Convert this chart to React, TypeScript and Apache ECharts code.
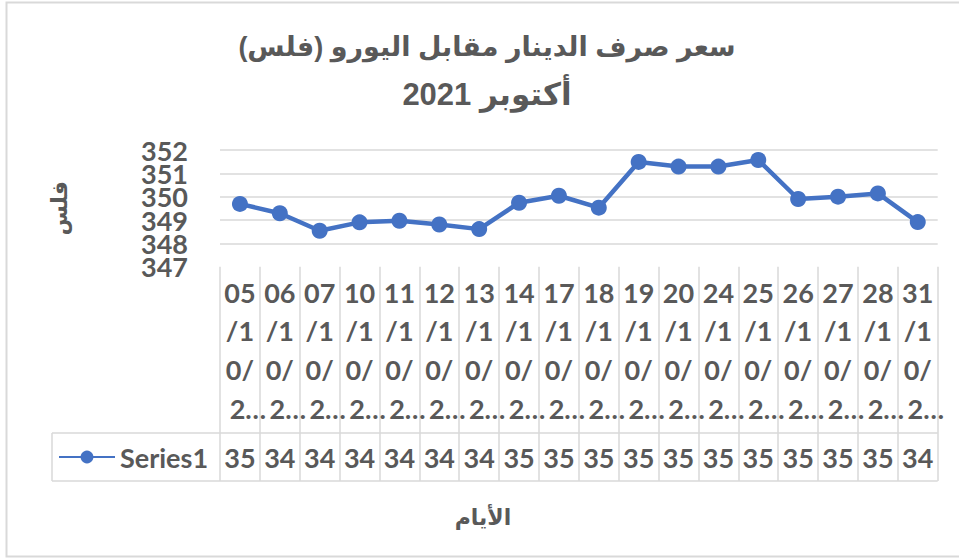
import React, { useEffect, useRef } from "react";
import * as echarts from "echarts";

const titleLine1 = "سعر صرف الدينار مقابل اليورو (فلس)\u200F";
const titleLine2 = "أكتوبر 2021";
const yAxisTitle = "فلس";
const xAxisTitle = "الأيام";
const seriesName = "Series1";

const dates = [
  "05/10/2021", "06/10/2021", "07/10/2021", "10/10/2021", "11/10/2021", "12/10/2021",
  "13/10/2021", "14/10/2021", "17/10/2021", "18/10/2021", "19/10/2021", "20/10/2021",
  "24/10/2021", "25/10/2021", "26/10/2021", "27/10/2021", "28/10/2021", "31/10/2021",
];
const rates = [
  349.69, 349.29, 348.54, 348.9, 348.97, 348.81, 348.61, 349.74, 350.04,
  349.53, 351.49, 351.29, 351.29, 351.57, 349.9, 350.0, 350.14, 348.91,
];
// Excel data table shows the rounded value truncated to two characters
const tableLabels = rates.map((v) => String(Math.round(v)).slice(0, 2));

const Y_MIN = 347;
const Y_MAX = 352;
const Y_STEP = 1;

const GREY = "#595959";
const GRID_GREY = "#d9d9d9";
const BLUE = "#4472C4";
const NUM_FONT = "Lato, 'Open Sans', sans-serif";
const AR_FONT = "'Liberation Sans', 'DejaVu Sans', sans-serif";

export default function App() {
  const ref = useRef<HTMLDivElement>(null);

  useEffect(() => {
    if (!ref.current) return;
    const chart = echarts.init(ref.current, undefined, { renderer: "svg" });

    const gridLeft = 220;
    const gridRight = 21.3;
    const gridTop = 150;
    const gridBottom = 291.3;
    const axisY = 558 - gridBottom;
    const tableTop = 433;
    const tableBottom = 481;
    const tableLeft = 52;
    const plotRight = 959 - gridRight;

    const yLabelStyle = {
      margin: 32,
      showMinLabel: true,
      showMaxLabel: true,
      hideOverlap: false,
      color: GREY,
      fontSize: 27,
      fontWeight: "bold",
      fontFamily: NUM_FONT,
    };

    const option: any = {
      animation: false,
      backgroundColor: "#ffffff",
      grid: { left: gridLeft, right: gridRight, top: gridTop, bottom: gridBottom, containLabel: false },
      legend: {
        data: [seriesName],
        left: 58,
        top: 442,
        padding: 0,
        itemWidth: 56,
        itemHeight: 16,
        textStyle: { color: GREY, fontSize: 27, fontWeight: "bold", fontFamily: NUM_FONT, lineHeight: 30 },
      },
      xAxis: [
        {
          type: "category",
          data: dates,
          boundaryGap: true,
          position: "bottom",
          axisLine: { show: false },
          axisTick: {
            show: true,
            interval: 0,
            length: tableBottom - axisY,
            lineStyle: { color: GRID_GREY, width: 1.5 },
          },
          axisLabel: {
            interval: 0,
            margin: 6,
            hideOverlap: false,
            formatter: (v: string) => {
              const parts: string[] = [];
              for (let i = 0; i < v.length; i += 2) parts.push(v.slice(i, i + 2));
              return `{a|${parts[0]}}\n{a|${parts[1]}}\n{a|${parts[2]}}\n{b|${parts[3][0]}…}`;
            },
            rich: {
              a: { color: GREY, fontSize: 27, fontWeight: "bold", fontFamily: NUM_FONT, lineHeight: 38.7 },
              b: {
                color: GREY, fontSize: 27, fontWeight: "bold", fontFamily: NUM_FONT, lineHeight: 38.7,
                padding: [0, 0, 0, 16],
              },
            },
          },
          splitLine: { show: false },
        },
        {
          type: "category",
          data: tableLabels,
          boundaryGap: true,
          position: "bottom",
          axisLine: { show: false },
          axisTick: { show: false },
          axisLabel: {
            interval: 0,
            margin: 442 - axisY,
            hideOverlap: false,
            color: GREY,
            fontSize: 27,
            fontWeight: "bold",
            fontFamily: NUM_FONT,
            lineHeight: 30,
          },
          splitLine: { show: false },
        },
      ],
      yAxis: [
        {
          type: "value",
          min: Y_MIN,
          max: Y_MAX,
          interval: Y_STEP,
          position: "left",
          name: yAxisTitle,
          nameLocation: "middle",
          nameRotate: 90,
          nameGap: 150,
          nameMoveOverlap: false,
          nameTextStyle: { color: GREY, fontSize: 22, fontWeight: "bold", fontFamily: AR_FONT },
          axisLine: { show: false },
          axisTick: { show: false },
          axisLabel: {
            ...yLabelStyle,
            formatter: (v: number) => ((v - Y_MIN) % 2 === 0 ? String(v) : ""),
          },
          splitLine: {
            show: true,
            lineStyle: {
              color: ["rgba(0,0,0,0)", GRID_GREY, GRID_GREY, GRID_GREY, GRID_GREY, GRID_GREY],
              width: 1.5,
            },
          },
        },
        {
          type: "value",
          min: Y_MIN,
          max: Y_MAX,
          interval: Y_STEP,
          position: "left",
          offset: 0,
          axisLine: { show: false },
          axisTick: { show: false },
          axisLabel: {
            ...yLabelStyle,
            formatter: (v: number) => ((v - Y_MIN) % 2 === 1 ? String(v) : ""),
          },
          splitLine: { show: false },
        },
      ],
      series: [
        {
          name: seriesName,
          type: "line",
          xAxisIndex: 0,
          yAxisIndex: 0,
          data: rates,
          symbol: "circle",
          symbolSize: 16,
          itemStyle: { color: BLUE },
          lineStyle: { color: BLUE, width: 4.5 },
          z: 5,
        },
      ],
      graphic: [
        {
          type: "rect",
          silent: true,
          shape: { x: 6.5, y: 2.5, width: 960, height: 554 },
          style: { fill: "none", stroke: GRID_GREY, lineWidth: 2 },
        },
        {
          type: "line",
          silent: true,
          shape: { x1: tableLeft, y1: tableTop, x2: plotRight, y2: tableTop },
          style: { stroke: GRID_GREY, lineWidth: 1.5 },
        },
        {
          type: "line",
          silent: true,
          shape: { x1: tableLeft, y1: tableBottom, x2: plotRight, y2: tableBottom },
          style: { stroke: GRID_GREY, lineWidth: 1.5 },
        },
        {
          type: "line",
          silent: true,
          shape: { x1: tableLeft, y1: tableTop, x2: tableLeft, y2: tableBottom },
          style: { stroke: GRID_GREY, lineWidth: 1.5 },
        },
        {
          type: "text",
          silent: true,
          style: {
            text: titleLine1,
            x: 487,
            y: 47,
            align: "center",
            verticalAlign: "middle",
            fill: GREY,
            font: `bold 27px ${AR_FONT}`,
          },
        },
        {
          type: "text",
          silent: true,
          style: {
            text: titleLine2,
            x: 487,
            y: 94,
            align: "center",
            verticalAlign: "middle",
            fill: GREY,
            font: `bold 31px ${AR_FONT}`,
          },
        },
        {
          type: "text",
          silent: true,
          style: {
            text: xAxisTitle,
            x: 483,
            y: 517,
            align: "center",
            verticalAlign: "middle",
            fill: GREY,
            font: `bold 22px ${AR_FONT}`,
          },
        },
      ],
    };

    chart.setOption(option);
    return () => chart.dispose();
  }, []);

  return (
    <div
      ref={ref}
      style={{ position: "fixed", left: 0, top: 0, width: 959, height: 558, background: "#fff" }}
    />
  );
}
